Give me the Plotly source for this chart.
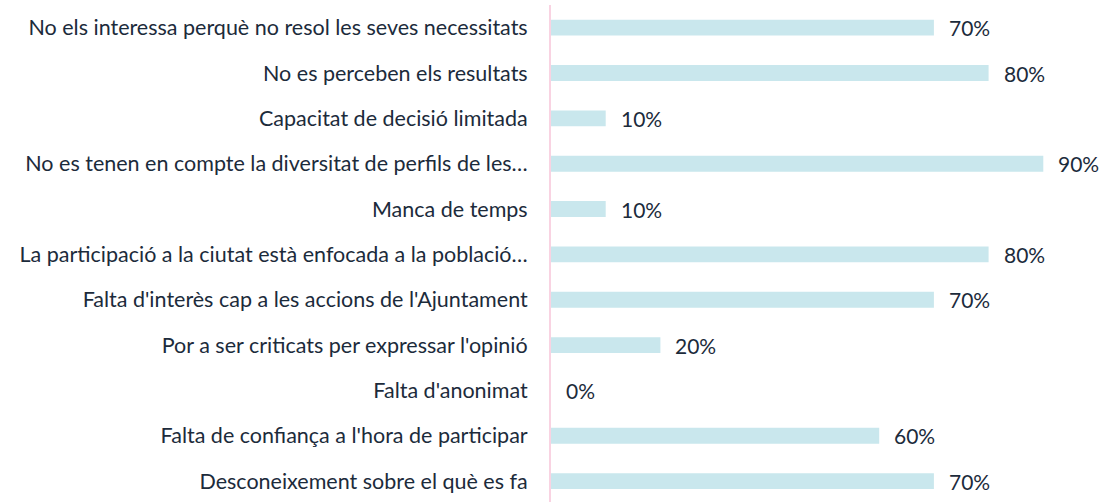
import plotly.graph_objects as go

categories = [
    "No els interessa perquè no resol les seves necessitats",
    "No es perceben els resultats",
    "Capacitat de decisió limitada",
    "No es tenen en compte la diversitat de perfils de les…",
    "Manca de temps",
    "La participació a la ciutat està enfocada a la població…",
    "Falta d'interès cap a les accions de l'Ajuntament",
    "Por a ser criticats per expressar l'opinió",
    "Falta d'anonimat",
    "Falta de confiança a l'hora de participar",
    "Desconeixement sobre el què es fa",
]
values = [0.70, 0.80, 0.10, 0.90, 0.10, 0.80, 0.70, 0.20, 0.00, 0.60, 0.70]
labels = [f"{round(v*100)}%" for v in values]

FONT = "Lato"
TXT = "#1c2b3b"

fig = go.Figure(go.Bar(
    y=categories, x=values, orientation="h",
    marker=dict(color="#c9e7ed", line=dict(width=0)),
    hoverinfo="skip",
))

for c, v, t in zip(categories, values, labels):
    fig.add_annotation(x=v, y=c, text=t, xanchor="left", yanchor="middle",
                       xshift=13, showarrow=False,
                       font=dict(family=FONT, size=21, color=TXT))

fig.update_layout(
    width=1107, height=502,
    margin=dict(l=551, r=9, t=5, b=0),
    paper_bgcolor="white", plot_bgcolor="white",
    bargap=0.65, showlegend=False,
    font=dict(family=FONT, size=21.5, color=TXT),
)
fig.update_xaxes(range=[0, 1], visible=False, showgrid=False, zeroline=False)
fig.update_yaxes(range=[10.46, -0.5], showgrid=False, zeroline=False,
                 showline=True, linecolor="#f9d3e2", linewidth=2,
                 ticks="", ticklabelstandoff=17,
                 tickfont=dict(family=FONT, size=21.5, color=TXT))

fig.write_html("out.html", config={"displayModeBar": False},
               post_script="document.body.style.margin='0px';")
